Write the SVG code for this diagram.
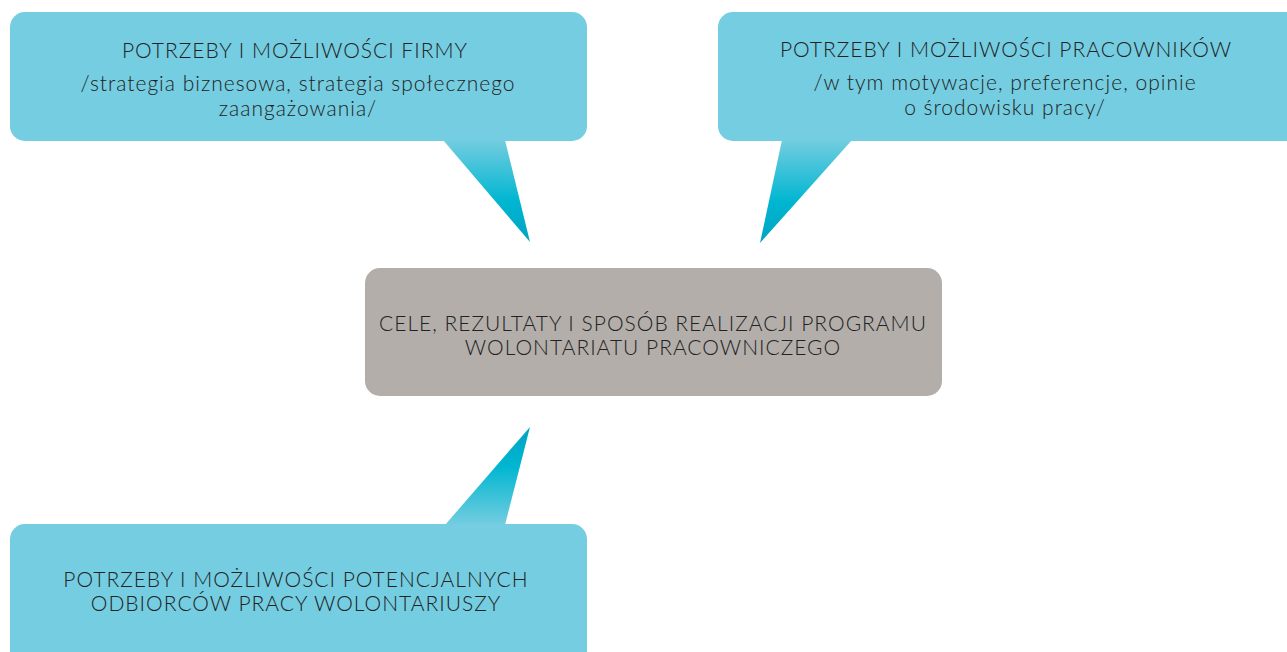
<svg xmlns="http://www.w3.org/2000/svg" width="1287" height="652" viewBox="0 0 1287 652">
<style>
.b{fill:#74cde0}
.c{fill:#b3aeaa}
text{font-family:Lato,"Open Sans","Liberation Sans",sans-serif;font-weight:300;fill:#222;text-anchor:middle;font-size:21px;letter-spacing:1px}
</style>
<defs>
<linearGradient id="gd" x1="0" y1="0" x2="0" y2="1">
<stop offset="0" stop-color="#74cde0"/>
<stop offset="0.6" stop-color="#00b6d1"/>
<stop offset="1" stop-color="#00a3c2"/>
</linearGradient>
<linearGradient id="gu" x1="0" y1="1" x2="0" y2="0">
<stop offset="0" stop-color="#74cde0"/>
<stop offset="0.6" stop-color="#00b6d1"/>
<stop offset="1" stop-color="#00a3c2"/>
</linearGradient>
</defs>
<g id="connectors">
<polygon points="443,140 505,140 530,242" fill="url(#gd)"/>
<polygon points="782,140 852,140 760,243" fill="url(#gd)"/>
<polygon points="445,525 505,525 530,427" fill="url(#gu)"/>
</g>
<g id="firma">
<rect class="b" x="10" y="12" width="577" height="129" rx="15"/>
<text x="295" y="58">POTRZEBY I MOŻLIWOŚCI FIRMY</text>
<text x="298" y="91">/strategia biznesowa, strategia społecznego</text>
<text x="298" y="116">zaangażowania/</text>
</g>
<g id="pracownicy">
<rect class="b" x="718" y="12" width="590" height="129" rx="15"/>
<text x="1006" y="57">POTRZEBY I MOŻLIWOŚCI PRACOWNIKÓW</text>
<text x="1005" y="90">/w tym motywacje, preferencje, opinie</text>
<text x="1005" y="115">o środowisku pracy/</text>
</g>
<g id="cele">
<rect class="c" x="365" y="268" width="577" height="128" rx="15"/>
<text x="653" y="331">CELE, REZULTATY I SPOSÓB REALIZACJI PROGRAMU</text>
<text x="653" y="355">WOLONTARIATU PRACOWNICZEGO</text>
</g>
<g id="odbiorcy">
<rect class="b" x="10" y="524" width="577" height="150" rx="15"/>
<text x="296" y="587">POTRZEBY I MOŻLIWOŚCI POTENCJALNYCH</text>
<text x="296" y="611">ODBIORCÓW PRACY WOLONTARIUSZY</text>
</g>
</svg>
